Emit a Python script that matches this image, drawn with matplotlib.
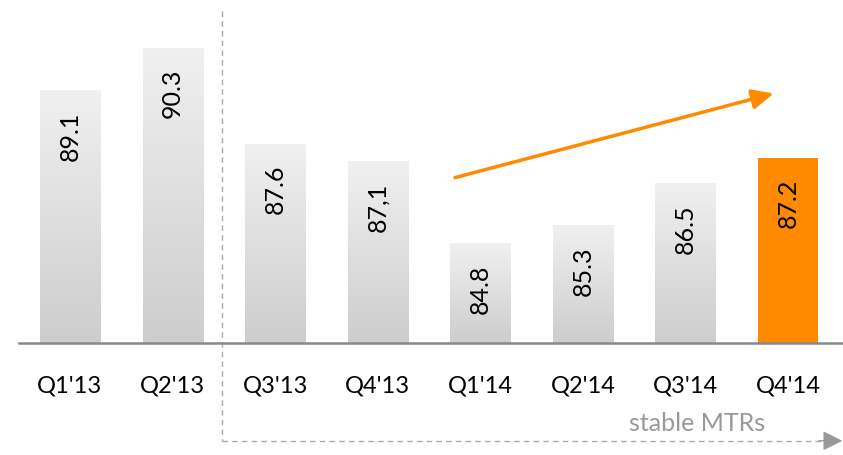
import numpy as np
import matplotlib.pyplot as plt
from matplotlib.colors import LinearSegmentedColormap

quarters = ["Q1'13", "Q2'13", "Q3'13", "Q4'13", "Q1'14", "Q2'14", "Q3'14", "Q4'14"]
values = [89.1, 90.3, 87.6, 87.1, 84.8, 85.3, 86.5, 87.2]
labels = ["89.1", "90.3", "87.6", "87,1", "84.8", "85.3", "86.5", "87.2"]
base = 82.0
orange = '#FF8A00'

plt.rcParams['font.family'] = ['Lato', 'DejaVu Sans']

fig = plt.figure(figsize=(8.43, 4.56), dpi=100)
ax = fig.add_axes([0, 0, 1, 1])
ax.set_xlim(-0.682, 7.536)
ax.set_ylim(78.84, 91.68)
ax.axis('off')

w = 0.585
grad = np.linspace(0, 1, 256).reshape(-1, 1)
gray_cmap = LinearSegmentedColormap.from_list('bar', ['#F0F0F0', '#CDCDCD'])
for i, (v, lab) in enumerate(zip(values, labels)):
    if i == len(values) - 1:
        ax.bar(i, v - base, bottom=base, width=w, color=orange, zorder=2)
    else:
        # light-to-darker gray gradient
        ax.imshow(grad, extent=(i - w / 2, i + w / 2, base, v), origin='upper',
                  cmap=gray_cmap, aspect='auto', zorder=2)
    ax.annotate(lab, (i, v), xytext=(0, -20), textcoords='offset pixels',
                rotation=90, ha='center', va='top', fontsize=18, color='black', zorder=3)
    ax.text(i, 80.8, quarters[i], ha='center', va='center', fontsize=17, color='black')

# baseline
ax.plot([-0.5, 7.536], [base, base], color='#888888', lw=1.8, zorder=4)

# dashed bracket for "stable MTRs"
gray = '#AAAAAA'
ax.plot([1.482, 1.482], [91.35, 79.24], color=gray, lw=1, ls=(0, (4, 3)), zorder=1)
ax.plot([1.482, 7.34], [79.24, 79.24], color=gray, lw=1, ls=(0, (4, 3)), zorder=1)
ax.annotate('', xy=(7.53, 79.24), xytext=(7.3, 79.24),
            arrowprops=dict(arrowstyle='-|>,head_length=1.2,head_width=0.6',
                            color='#999999', lw=1, shrinkA=0, shrinkB=0))
ax.text(6.78, 79.75, 'stable MTRs', ha='right', va='center', fontsize=18, color='#999999')

# orange trend arrow
ax.annotate('', xy=(6.86, 89.02), xytext=(3.754, 86.65),
            arrowprops=dict(arrowstyle='-|>,head_length=1.3,head_width=0.6',
                            color=orange, lw=2.5, shrinkA=0, shrinkB=0))

fig.savefig('out.png', dpi=100)
